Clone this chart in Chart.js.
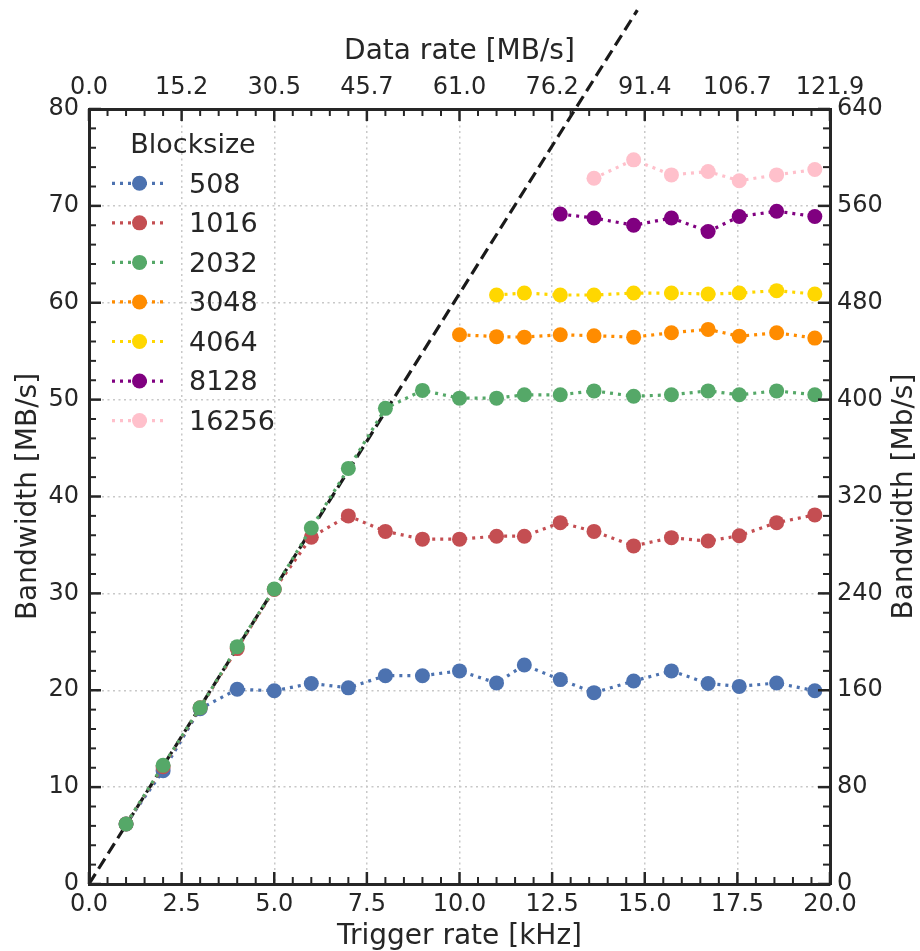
<!DOCTYPE html>
<html>
<head>
<meta charset="utf-8">
<script src="https://cdn.jsdelivr.net/npm/chart.js@4.4.0/dist/chart.umd.min.js"></script>
<style>
  html, body { margin: 0; padding: 0; background: #fff; }
  canvas { display: block; }
</style>
</head>
<body>
<canvas id="bwChart" width="920" height="951"></canvas>
<script>
// trigger rates [kHz] of the measurement points
const triggerRate = [1, 2, 3, 4, 5, 6, 7, 8, 9, 10, 11, 11.75, 12.72, 13.63, 14.7, 15.72, 16.71, 17.55, 18.56, 19.59];

// measured bandwidth [MB/s] per block size, null = not measured
const bw508   = [6.2, 11.7, 18.1, 20.1, 19.95, 20.7, 20.25, 21.5, 21.5, 22.0, 20.75, 22.6, 21.1, 19.75, 20.95, 22.0, 20.7, 20.4, 20.75, 19.95];
const bw1016  = [6.2, 12.1, 18.2, 24.3, 30.4, 35.8, 38.0, 36.4, 35.6, 35.6, 35.9, 35.9, 37.3, 36.4, 34.9, 35.75, 35.4, 35.95, 37.3, 38.1];
const bw2032  = [6.2, 12.25, 18.2, 24.5, 30.45, 36.75, 42.9, 49.1, 50.95, 50.15, 50.15, 50.5, 50.5, 50.9, 50.35, 50.5, 50.9, 50.5, 50.9, 50.5];
const bw3048  = [null, null, null, null, null, null, null, null, null, 56.7, 56.5, 56.45, 56.7, 56.6, 56.45, 56.9, 57.25, 56.55, 56.9, 56.35];
const bw4064  = [null, null, null, null, null, null, null, null, null, null, 60.8, 61.0, 60.8, 60.8, 61.0, 61.0, 60.9, 61.0, 61.25, 60.9];
const bw8128  = [null, null, null, null, null, null, null, null, null, null, null, null, 69.15, 68.75, 68.0, 68.75, 67.35, 68.9, 69.45, 68.9];
const bw16256 = [null, null, null, null, null, null, null, null, null, null, null, null, null, 72.85, 74.75, 73.2, 73.55, 72.6, 73.2, 73.75];

const blockSizes = ['508', '1016', '2032', '3048', '4064', '8128', '16256'];
const seriesValues = [bw508, bw1016, bw2032, bw3048, bw4064, bw8128, bw16256];
const seriesColors = ['#4c72b0', '#c44e52', '#55a868', '#ff8c00', '#ffd700', '#800080', '#ffc0cb'];

// ideal line: bandwidth = data rate
const idealRate = [0, 14.8];
const idealBw = [0, 90.2];

// top axis: data rate [MB/s] at every 2.5 kHz
const dataRateTicks = [0, 15.24, 30.48, 45.72, 60.96, 76.2, 91.44, 106.68, 121.92];
const dataRateLabels = ['0.0', '15.2', '30.5', '45.7', '61.0', '76.2', '91.4', '106.7', '121.9'];

const ink = '#262626';
const family = "'DejaVu Sans', sans-serif";
const tickFont = { family, size: 24, lineHeight: 1.2 };
const titleFont = { family, size: 28, lineHeight: 1 };

function strokeLine(ctx, x1, y1, x2, y2) {
    ctx.beginPath();
    ctx.moveTo(x1, y1);
    ctx.lineTo(x2, y2);
    ctx.stroke();
}

// inward ticks on all four sides
const innerTicks = {
    id: 'innerTicks',
    afterDraw(chart) {
        const { ctx, chartArea: a, scales } = chart;
        ctx.save();
        ctx.strokeStyle = ink;
        for (let i = 0; i <= 40; i++) {
            const px = scales.x.getPixelForValue(i * 0.5);
            const major = i % 5 === 0;
            const len = major ? 12 : 7;
            ctx.lineWidth = major ? 2.5 : 2;
            strokeLine(ctx, px, a.bottom, px, a.bottom - len);
            strokeLine(ctx, px, a.top, px, a.top + len);
        }
        for (let i = 0; i <= 40; i++) {
            const py = scales.y.getPixelForValue(i * 2);
            const major = i % 5 === 0;
            const len = major ? 12 : 7;
            ctx.lineWidth = major ? 2.5 : 2;
            strokeLine(ctx, a.left, py, a.left + len, py);
            strokeLine(ctx, a.right, py, a.right - len, py);
        }
        ctx.restore();
    }
};

// legend box in the upper left corner
const blockLegend = {
    id: 'blockLegend',
    afterDraw(chart) {
        const ctx = chart.ctx;
        ctx.save();
        ctx.fillStyle = ink;
        ctx.font = `27px ${family}`;
        ctx.textAlign = 'center';
        ctx.textBaseline = 'alphabetic';
        ctx.fillText('Blocksize', 193, 153);
        ctx.textAlign = 'left';
        blockSizes.forEach((name, i) => {
            const ds = chart.data.datasets[i];
            const rowY = 183.3 + i * 39.55;
            ctx.strokeStyle = ds.borderColor;
            ctx.lineWidth = ds.borderWidth;
            ctx.setLineDash(ds.borderDash);
            strokeLine(ctx, 112, rowY, 167, rowY);
            ctx.setLineDash([]);
            ctx.fillStyle = ds.pointBackgroundColor;
            ctx.beginPath();
            ctx.arc(139.5, rowY, ds.pointRadius, 0, Math.PI * 2);
            ctx.fill();
            ctx.fillStyle = ink;
            ctx.fillText(name, 189, rowY + 9.4);
        });
        ctx.restore();
    }
};

// right axis title, reading upward like the left one
const rightTitle = {
    id: 'rightTitle',
    afterDraw(chart) {
        const { ctx, chartArea: a } = chart;
        ctx.save();
        ctx.translate(905, (a.top + a.bottom) / 2);
        ctx.rotate(-Math.PI / 2);
        ctx.fillStyle = ink;
        ctx.font = `28px ${family}`;
        ctx.textAlign = 'center';
        ctx.textBaseline = 'middle';
        ctx.fillText('Bandwidth [Mb/s]', 0, 0);
        ctx.restore();
    }
};

const datasets = blockSizes.map((name, i) => ({
    label: name,
    data: triggerRate
        .map((r, k) => ({ x: r, y: seriesValues[i][k] }))
        .filter(p => p.y !== null),
    borderColor: seriesColors[i],
    backgroundColor: seriesColors[i],
    pointBackgroundColor: seriesColors[i],
    borderWidth: 3.2,
    borderDash: [3, 5],
    borderCapStyle: 'butt',
    pointRadius: 7.5,
    pointBorderWidth: 0,
    order: blockSizes.length - i
}));

datasets.push({
    label: 'ideal',
    data: idealRate.map((r, k) => ({ x: r, y: idealBw[k] })),
    borderColor: '#1a1a1a',
    borderWidth: 3.2,
    borderDash: [12, 6],
    pointRadius: 0,
    clip: false,
    order: 20
});

new Chart(document.getElementById('bwChart'), {
    type: 'line',
    data: { datasets },
    plugins: [innerTicks, blockLegend, rightTitle],
    options: {
        responsive: false,
        animation: false,
        devicePixelRatio: 1,
        layout: { padding: 0 },
        plugins: { legend: { display: false }, tooltip: { enabled: false } },
        scales: {
            x: {
                type: 'linear', position: 'bottom', min: 0, max: 20,
                afterFit: s => { s.height = 67; },
                ticks: { stepSize: 2.5, color: ink, font: tickFont, padding: 6, maxRotation: 0, autoSkip: false,
                    callback: v => v.toFixed(1) },
                grid: { color: '#c8c8c8', lineWidth: 1.5, drawTicks: false },
                border: { display: true, color: ink, width: 3, dash: [2, 3.5] },
                title: { display: true, text: 'Trigger rate [kHz]', color: ink, font: titleFont, padding: { bottom: 0 } }
            },
            x2: {
                type: 'linear', position: 'top', min: 0, max: 121.92,
                afterFit: s => { s.height = 109; },
                afterBuildTicks: s => { s.ticks = dataRateTicks.map(v => ({ value: v })); },
                ticks: { color: ink, font: tickFont, padding: 7, maxRotation: 0, autoSkip: false,
                    callback: (v, i) => dataRateLabels[i] },
                grid: { drawOnChartArea: false, drawTicks: false },
                border: { display: true, color: ink, width: 3 },
                title: { display: true, text: 'Data rate [MB/s]', color: ink, font: titleFont, padding: { top: 37.5 } }
            },
            y: {
                type: 'linear', position: 'left', min: 0, max: 80,
                afterFit: s => { s.width = 89; },
                ticks: { stepSize: 10, color: ink, font: tickFont, padding: 10 },
                grid: { color: '#c8c8c8', lineWidth: 1.5, drawTicks: false },
                border: { display: true, color: ink, width: 3, dash: [2, 3.5] },
                title: { display: true, text: 'Bandwidth [MB/s]', color: ink, font: titleFont, padding: { top: 15 } }
            },
            y2: {
                type: 'linear', position: 'right', min: 0, max: 640,
                afterFit: s => { s.width = 90; },
                ticks: { stepSize: 80, color: ink, font: tickFont, padding: 7 },
                grid: { drawOnChartArea: false, drawTicks: false },
                border: { display: true, color: ink, width: 3 }
            }
        }
    }
});
</script>
</body>
</html>
